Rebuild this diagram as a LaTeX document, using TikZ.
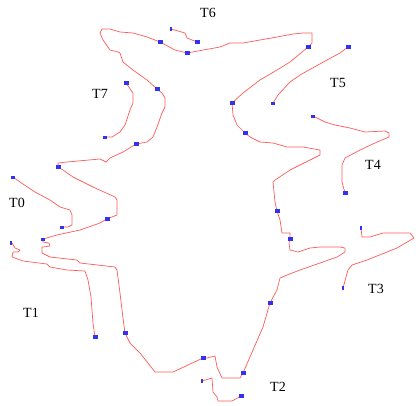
\documentclass[tikz,border=0pt]{standalone}
\usepackage{fontspec}
\setmainfont{Liberation Serif}
\definecolor{trace}{RGB}{255,90,90}
\definecolor{mark}{RGB}{50,50,245}
\begin{document}
\begin{tikzpicture}[x=1pt,y=-1pt,
  curve/.style={draw=trace,line width=0.7pt,line join=round},
  mk/.style={fill=mark,inner sep=0pt,minimum width=5pt,minimum height=4.5pt,rectangle},
  mks/.style={fill=mark,inner sep=0pt,minimum width=4.5pt,minimum height=3pt,rectangle},
  mkt/.style={fill=mark,inner sep=0pt,minimum width=2pt,minimum height=4pt,rectangle},
  lbl/.style={font=\fontsize{14}{14}\selectfont,inner sep=0pt}]
\useasboundingbox (0,0) rectangle (419,405);

% central closed contour
\draw[curve] (160,42) -- (175,50) -- (187,53) -- (220,47) -- (230,43) -- (243,43)
  -- (260,40) -- (277,37) -- (293,34) -- (303,33) -- (312,33) -- (312,43) -- (308,47)
  -- (302,52) -- (290,62) -- (277,70) -- (260,80) -- (243,93) -- (232,103)
  -- (233,115) -- (237,125) -- (245,133) -- (250,137) -- (260,142) -- (273,143)
  -- (287,147) -- (303,147) -- (320,150) -- (320,155) -- (310,160) -- (290,170)
  -- (275,180) -- (273,182) -- (275,202) -- (277,211) -- (280,220) -- (282,233)
  -- (290,233) -- (290,239) -- (289,243) -- (290,250) -- (298,252) -- (310,248)
  -- (320,247) -- (340,247) -- (345,248) -- (345,252) -- (337,257) -- (320,263)
  -- (300,270) -- (287,275) -- (280,278) -- (277,290) -- (270,303) -- (263,327)
  -- (253,350) -- (243,373) -- (240,378) -- (222,378) -- (217,367) -- (215,356)
  -- (207,358) -- (203,358) -- (173,372) -- (155,372) -- (140,353) -- (130,343)
  -- (125,333) -- (123,318) -- (120,293) -- (117,270) -- (115,267) -- (80,263)
  -- (77,260) -- (50,257) -- (42,253) -- (42,247) -- (43,247) -- (50,246)
  -- (49,243) -- (43,242) -- (43,239) -- (57,235) -- (80,230) -- (100,223)
  -- (107,219) -- (117,215) -- (117,200) -- (115,197) -- (93,187) -- (73,177)
  -- (63,170) -- (58,167) -- (58,163) -- (67,162) -- (100,159) -- (106,162)
  -- (110,158) -- (123,152) -- (136,144) -- (147,142) -- (153,137) -- (157,127)
  -- (162,113) -- (165,107) -- (165,98) -- (162,93) -- (157,89) -- (147,80)
  -- (133,70) -- (123,62) -- (120,53) -- (118,52) -- (110,50) -- (103,40)
  -- (100,33) -- (102,29) -- (110,29) -- (120,32) -- (133,33) -- (147,37) -- cycle;

% open traces
\draw[curve] (171,29) -- (185,33) -- (187,38) -- (197,42);
\draw[curve] (348,47) -- (340,53) -- (327,60) -- (300,75) -- (290,82) -- (278,95) -- (273,103);
\draw[curve] (313,116) -- (325,122) -- (335,125) -- (350,128) -- (365,132) -- (385,131)
  -- (389,133) -- (389,137) -- (375,143) -- (360,150) -- (345,158) -- (342,165)
  -- (342,182) -- (345,193);
\draw[curve] (361,228) -- (362,237) -- (370,237) -- (383,233) -- (410,233) -- (414,238)
  -- (397,248) -- (367,260) -- (352,265) -- (348,270) -- (343,288);
\draw[curve] (126,83) -- (133,93) -- (133,103) -- (130,110) -- (125,125) -- (120,132)
  -- (112,137) -- (105,137);
\draw[curve] (13,177) -- (20,182) -- (35,192) -- (50,200) -- (60,207) -- (70,210)
  -- (72,215) -- (72,225) -- (68,227) -- (62,227);
\draw[curve] (12,243) -- (15,248) -- (20,250) -- (18,252) -- (13,252) -- (12,257)
  -- (23,261) -- (47,264) -- (50,267) -- (67,270) -- (85,271) -- (88,280)
  -- (91,297) -- (93,323) -- (95,337);
\draw[curve] (202,381) -- (212,378) -- (213,392) -- (217,397) -- (218,401) -- (232,401)
  -- (241,396);

% point markers
\foreach \p in {(160,42),(187,53),(308,47),(232,103),(245,133),(277,211),(290,239),
  (270,303),(243,373),(203,358),(125,333),(107,219),(58,167),(136,144),(157,89),
  (197,42),(348,47),(345,193),(126,83),(95,337),(241,396)}
  \node[mk] at \p {};
\foreach \p in {(273,103),(313,116),(105,137),(13,177),(62,227),(43,239)}
  \node[mks] at \p {};
\foreach \p in {(171,29),(361,228),(343,288),(11,243),(202,381)}
  \node[mkt] at \p {};

% track labels
\node[lbl] (t0) at (17,203) {T0};
\node[lbl] (t1) at (31,313) {T1};
\node[lbl] (t2) at (278,387) {T2};
\node[lbl] (t3) at (376,289) {T3};
\node[lbl] (t4) at (373,165) {T4};
\node[lbl] (t5) at (338,83) {T5};
\node[lbl] (t6) at (208,13) {T6};
\node[lbl] (t7) at (100,94) {T7};
\end{tikzpicture}
\end{document}
